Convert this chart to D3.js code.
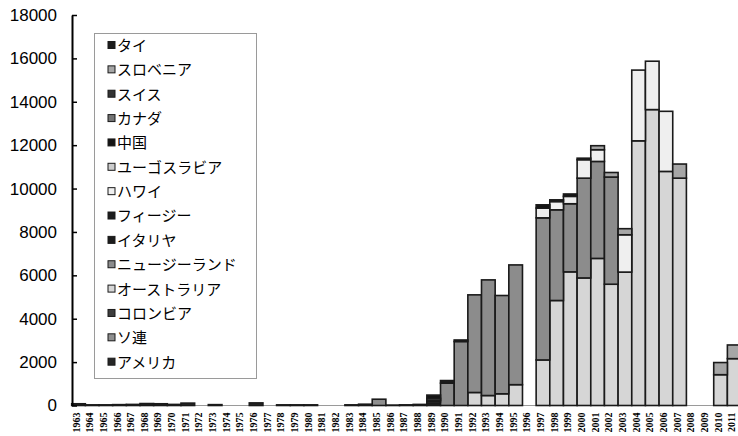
<!DOCTYPE html>
<html lang="ja">
<head>
<meta charset="UTF-8">
<title>国別推移</title>
<script src="https://cdn.jsdelivr.net/npm/d3@7"></script>
<style>
    body { margin: 0; background: #fff; }
    svg { display: block; }
</style>
</head>
<body>
<div id="chart"></div>
<script>
    var width = 738;
    var height = 436;

    var years = [1963,1964,1965,1966,1967,1968,1969,1970,1971,1972,
                 1973,1974,1975,1976,1977,1978,1979,1980,1981,1982,
                 1983,1984,1985,1986,1987,1988,1989,1990,1991,1992,
                 1993,1994,1995,1996,1997,1998,1999,2000,2001,2002,
                 2003,2004,2005,2006,2007,2008,2009,2010,2011];

    // 下から積み上げる順
    var seriesNames = ["アメリカ","ソ連","コロンビア","オーストラリア","ニュージーランド","イタリヤ","フィージー",
                       "ハワイ","ユーゴスラビア","中国","カナダ","スイス","スロベニア","タイ"];

    var usa       = [80,30,30,40,50,90,80,50,110,0, 40,0,0,120,0,30,30,30,0,0, 30,60,0,20,30,50,90,0,0,0, 0,0,0,0,0,0,0,0,0,0, 0,0,0,0,0,0,0,0,0];
    var soviet    = [0,0,0,0,0,0,0,0,0,0, 0,0,0,0,0,0,0,0,0,0, 0,0,290,0,0,0,0,0,0,0, 0,0,0,0,0,0,0,0,0,0, 0,0,0,0,0,0,0,0,0];
    var colombia  = [0,0,0,0,0,0,0,0,0,0, 0,0,0,0,0,0,0,0,0,0, 0,0,0,0,0,0,0,0,0,0, 0,0,0,0,0,0,0,0,0,0, 0,0,0,0,0,0,0,0,0];
    var australia = [0,0,0,0,0,0,0,0,0,0, 0,0,0,0,0,0,0,0,0,0, 0,0,0,0,0,0,80,0,0,600, 460,540,960,0,2100,4840,6160,5880,6780,5590, 6150,12200,13640,10790,10480,0,0,1420,2160];
    var newZealand= [0,0,0,0,0,0,0,0,0,0, 0,0,0,0,0,0,0,0,0,0, 0,0,0,0,0,0,0,1030,2950,4500, 5330,4530,5520,0,6550,4180,3140,4600,4470,4940, 0,0,0,0,0,0,0,0,0];
    var italy     = [0,0,0,0,0,0,0,0,0,0, 0,0,0,0,0,0,0,0,0,0, 0,0,0,0,0,0,80,120,70,0, 0,0,0,0,0,0,0,0,0,0, 0,0,0,0,0,0,0,0,0];
    var fiji      = [0,0,0,0,0,0,0,0,0,0, 0,0,0,0,0,0,0,0,0,0, 0,0,0,0,0,0,0,0,0,0, 0,0,0,0,0,0,0,0,0,0, 0,0,0,0,0,0,0,0,0];
    var hawaii    = [0,0,0,0,0,0,0,0,0,0, 0,0,0,0,0,0,0,0,0,0, 0,0,0,0,0,0,80,0,0,0, 0,0,0,0,450,380,340,850,540,0, 1720,3260,2230,2770,0,0,0,0,0];
    var yugoslavia= [0,0,0,0,0,0,0,0,0,0, 0,0,0,0,0,0,0,0,0,0, 0,0,0,0,0,0,0,0,0,0, 0,0,0,0,0,0,0,0,0,0, 0,0,0,0,0,0,0,0,0];
    var china     = [0,0,0,0,0,0,0,0,0,0, 0,0,0,0,0,0,0,0,0,0, 0,0,0,0,0,0,150,0,0,0, 0,0,0,0,150,80,110,70,0,0, 0,0,0,0,0,0,0,0,0];
    var canada    = [0,0,0,0,0,0,0,0,0,0, 0,0,0,0,0,0,0,0,0,0, 0,0,0,0,0,0,0,0,0,0, 0,0,0,0,0,0,0,0,0,0, 0,0,0,0,0,0,0,0,0];
    var swiss     = [0,0,0,0,0,0,0,0,0,0, 0,0,0,0,0,0,0,0,0,0, 0,0,0,0,0,0,0,0,0,0, 0,0,0,0,0,0,0,0,0,0, 0,0,0,0,0,0,0,0,0];
    var slovenia  = [0,0,0,0,0,0,0,0,0,0, 0,0,0,0,0,0,0,0,0,0, 0,0,0,0,0,0,0,0,0,0, 0,0,0,0,0,0,0,0,185,210, 280,0,0,0,650,0,0,560,630];
    var thai      = [0,0,0,0,0,0,0,0,0,0, 0,0,0,0,0,0,0,0,0,0, 0,0,0,0,0,0,0,0,0,0, 0,0,0,0,0,0,0,0,0,0, 0,0,0,0,0,0,0,0,0];

    var seriesValues = [usa, soviet, colombia, australia, newZealand, italy, fiji,
                        hawaii, yugoslavia, china, canada, swiss, slovenia, thai];

    var colors = ["#262626","#8f8f8f","#3d3d3d","#d6d6d6","#8c8c8c","#1c1c1c","#1c1c1c",
                  "#efefef","#cccccc","#141414","#737373","#333333","#a6a6a6","#1c1c1c"];

    var yTicks = [0,2000,4000,6000,8000,10000,12000,14000,16000,18000];

    // stack用の表
    var table = years.map(function (y, i) {
        var row = {year: y};
        seriesNames.forEach(function (name, k) {
            row[name] = seriesValues[k][i];
        });
        return row;
    });

    var stacked = d3.stack().keys(seriesNames)(table);

    var svg = d3.select("#chart")
            .append("svg")
            .attr("width", width)
            .attr("height", height);

    var x = d3.scaleBand()
            .domain(years)
            .range([71.7, 71.7 + 49 * 13.66])
            .padding(0);

    var y = d3.scaleLinear()
            .domain([0, 18000])
            .range([405.5, 15]);

    // x軸の基線
    svg.append("line")
            .attr("x1", 72).attr("x2", width)
            .attr("y1", y(0)).attr("y2", y(0))
            .attr("stroke", "#9a9a9a")
            .attr("stroke-width", 1);

    // 棒
    svg.append("g")
            .selectAll("g")
            .data(stacked)
            .enter()
            .append("g")
            .attr("fill", function (d, i) { return colors[i]; })
            .selectAll("rect")
            .data(function (d) {
                return d.filter(function (p) { return p[1] - p[0] > 0; });
            })
            .enter()
            .append("rect")
            .attr("x", function (d) { return x(d.data.year); })
            .attr("y", function (d) { return y(d[1]); })
            .attr("width", x.bandwidth())
            .attr("height", function (d) { return y(d[0]) - y(d[1]); })
            .attr("stroke", "#1a1a1a")
            .attr("stroke-width", 1.6);

    // y軸
    var yAxis = d3.axisLeft(y)
            .tickValues(yTicks)
            .tickFormat(d3.format("d"))
            .tickSizeInner(-5)
            .tickSizeOuter(0)
            .tickPadding(15);

    var yg = svg.append("g")
            .attr("transform", "translate(72,0)")
            .call(yAxis);
    yg.select(".domain").attr("stroke", "#000").attr("stroke-width", 2);
    yg.selectAll(".tick line").attr("stroke", "#000").attr("stroke-width", 1.5);
    yg.selectAll("text")
            .attr("fill", "#000")
            .style("font-family", "'Liberation Sans', Arial, sans-serif")
            .style("font-size", "17px");

    // x軸ラベル
    var xAxis = d3.axisBottom(x).tickSize(0);
    var xg = svg.append("g")
            .attr("transform", "translate(0," + y(0) + ")")
            .call(xAxis);
    xg.select(".domain").remove();
    xg.selectAll("text")
            .attr("transform", "rotate(-90)")
            .attr("x", -7)
            .attr("y", 0)
            .attr("dy", "0.1em")
            .attr("fill", "#000")
            .style("text-anchor", "end")
            .style("font-family", "'Liberation Serif', 'Times New Roman', serif")
            .style("font-weight", "bold")
            .style("font-size", "10px");

    // 凡例 (上から逆順)
    var legend = svg.append("g");
    legend.append("rect")
            .attr("x", 94.5).attr("y", 33.5)
            .attr("width", 162).attr("height", 345)
            .attr("fill", "#fff")
            .attr("stroke", "#9a9a9a")
            .attr("stroke-width", 1);

    var legendItems = seriesNames.slice().reverse();
    var item = legend.selectAll(".item")
            .data(legendItems)
            .enter()
            .append("g")
            .attr("class", "item")
            .attr("transform", function (d, i) {
                return "translate(108," + (45.5 + i * 24.36) + ")";
            });

    item.append("rect")
            .attr("x", 0).attr("y", -4)
            .attr("width", 7).attr("height", 7)
            .attr("fill", function (d) { return colors[seriesNames.indexOf(d)]; })
            .attr("stroke", "#1a1a1a")
            .attr("stroke-width", 1);

    item.append("text")
            .attr("x", 9)
            .attr("y", 0)
            .attr("dy", "0.36em")
            .attr("fill", "#000")
            .style("font-family", "'Noto Sans CJK JP', sans-serif")
            .style("font-size", "15px")
            .text(function (d) { return d; });
</script>
</body>
</html>
